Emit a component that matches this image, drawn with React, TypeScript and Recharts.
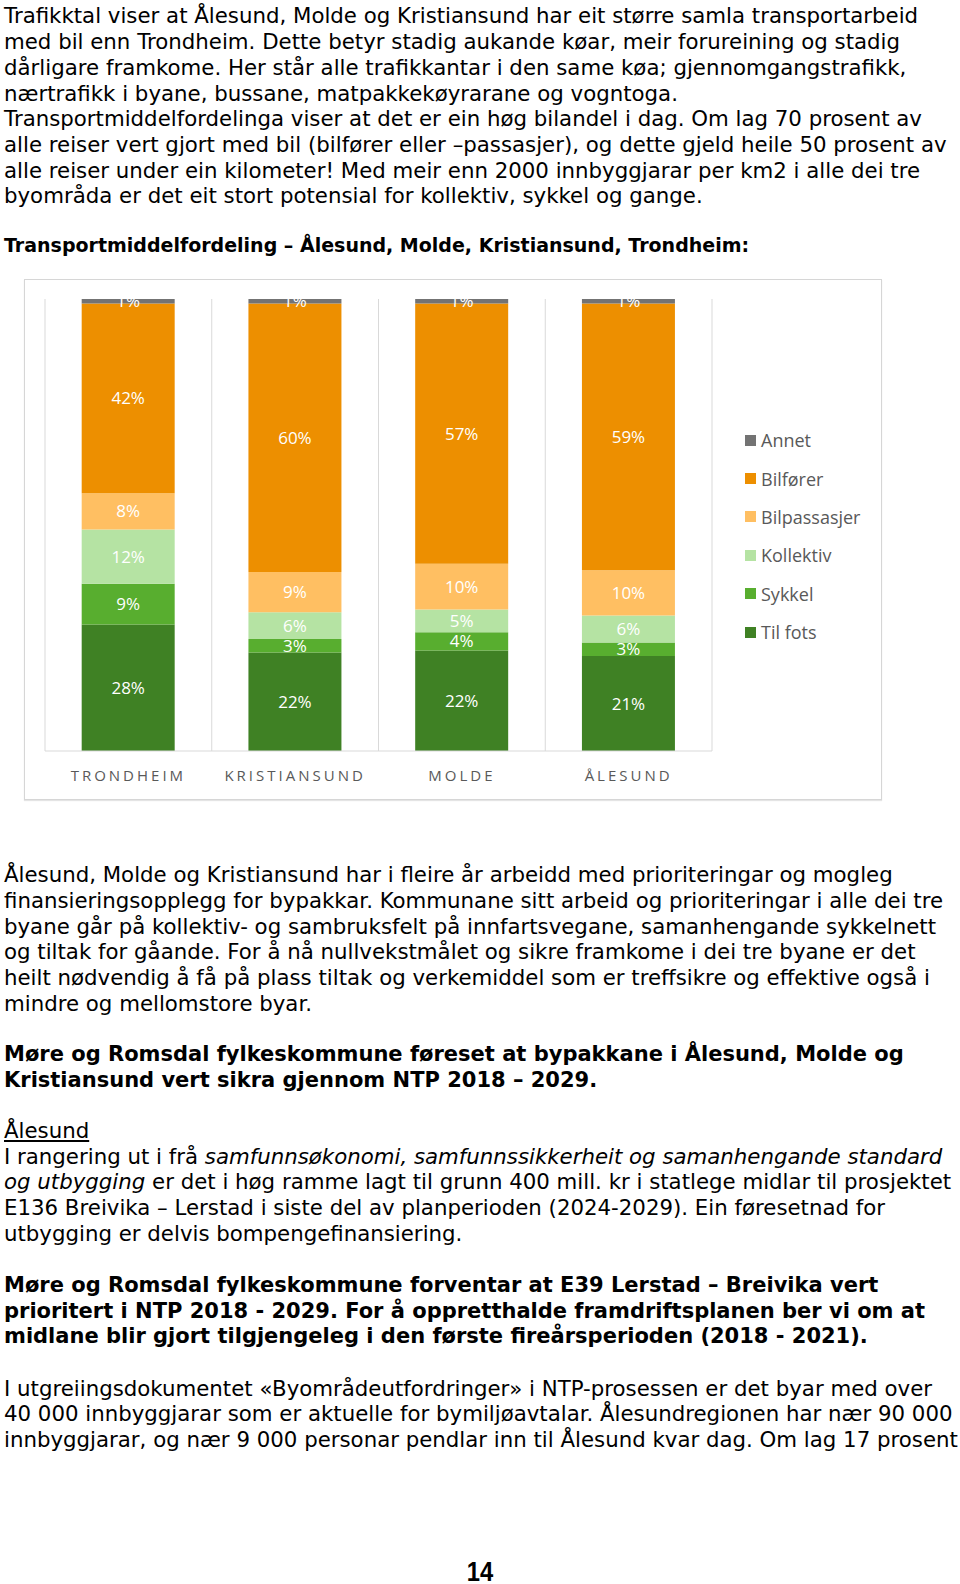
import React from "react";
import { Bar, BarChart, CartesianGrid, LabelList, Legend, XAxis, YAxis } from "recharts";

const cities = ["TRONDHEIM", "KRISTIANSUND", "MOLDE", "ÅLESUND"];
const tilFots = [28, 22, 22, 21];
const sykkel = [9, 3, 4, 3];
const kollektiv = [12, 6, 5, 6];
const bilpassasjer = [8, 9, 10, 10];
const bilforer = [42, 60, 57, 59];
const annet = [1, 1, 1, 1];

const data = cities.map((city, i) => ({
  city,
  tilFots: tilFots[i],
  sykkel: sykkel[i],
  kollektiv: kollektiv[i],
  bilpassasjer: bilpassasjer[i],
  bilforer: bilforer[i],
  annet: annet[i],
}));

// bottom of the stack first
const series = [
  { key: "tilFots", name: "Til fots", color: "#3f8124" },
  { key: "sykkel", name: "Sykkel", color: "#58ae2f" },
  { key: "kollektiv", name: "Kollektiv", color: "#b5e3a3" },
  { key: "bilpassasjer", name: "Bilpassasjer", color: "#ffbf62" },
  { key: "bilforer", name: "Bilfører", color: "#ed8f00" },
  { key: "annet", name: "Annet", color: "#737373" },
];

const LH = 25.7;
const TEXT_FONT = "'DejaVu Sans', Verdana, sans-serif";

function Block({ top, children, bold, size }: { top: number; children: React.ReactNode; bold?: boolean; size?: number }) {
  return (
    <div
      style={{
        position: "absolute",
        left: 4,
        top,
        lineHeight: `${LH}px`,
        fontSize: size ?? (bold ? 21 : 21.3),
        fontFamily: TEXT_FONT,
        fontWeight: bold ? "bold" : "normal",
        whiteSpace: "nowrap",
        color: "#000",
      }}
    >
      {children}
    </div>
  );
}

const gridX = (props: any) => {
  const o = props.offset;
  const step = o.width / cities.length;
  const xs = cities.map((_, i) => o.left + i * step);
  xs.push(o.left + o.width);
  return xs;
};

function LegendBox(props: any) {
  // top to bottom: Annet ... Til fots (reverse of the stack)
  const order = [...series].reverse().map((s) => s.name);
  const items = [...(props.payload || [])].sort(
    (a: any, b: any) => order.indexOf(a.value) - order.indexOf(b.value)
  );
  return (
    <div style={{ fontFamily: "'Open Sans', sans-serif", fontSize: 18, color: "#595959" }}>
      {items.map((it: any) => (
        <div key={it.value} style={{ height: 38.4, display: "flex", alignItems: "center" }}>
          <span style={{ width: 11, height: 11, background: it.color, marginRight: 5, display: "inline-block" }} />
          <span>{it.value}</span>
        </div>
      ))}
    </div>
  );
}

function TransportChart() {
  return (
    <BarChart
      width={856}
      height={519}
      data={data}
      stackOffset="expand"
      barCategoryGap="22%"
      margin={{ top: 19, right: 169, left: 20, bottom: 0 }}
    >
      <CartesianGrid horizontal={false} stroke="#d9d9d9" verticalCoordinatesGenerator={gridX} />
      <XAxis
        dataKey="city"
        height={48}
        tickLine={false}
        tickMargin={13}
        axisLine={{ stroke: "#d9d9d9" }}
        tick={{ fill: "#595959", fontSize: 15, letterSpacing: 3, fontFamily: "'Open Sans', sans-serif" }}
      />
      <YAxis hide domain={[0, 1]} />
      <Legend
        layout="vertical"
        align="center"
        verticalAlign="middle"
        content={<LegendBox />}
        wrapperStyle={{ left: 720, top: 141, width: 130 }}
      />
      {series.map((s) => (
        <Bar key={s.key} dataKey={s.key} name={s.name} stackId="a" fill={s.color} isAnimationActive={false}>
          <LabelList
            dataKey={s.key}
            position="center"
            formatter={(v: any) => `${v}%`}
            fill="#ffffff"
            fontSize={17}
            fontFamily="'Open Sans', sans-serif"
          />
        </Bar>
      ))}
    </BarChart>
  );
}

export default function App() {
  return (
    <div style={{ position: "relative", width: 960, height: 1584, background: "#fff" }}>
      <style>{"body{margin:0}"}</style>
      <Block top={3.4}>
        Trafikktal viser at Ålesund, Molde og Kristiansund har eit større samla transportarbeid<br />
        med bil enn Trondheim. Dette betyr stadig aukande køar, meir forureining og stadig<br />
        dårligare framkome. Her står alle trafikkantar i den same køa; gjennomgangstrafikk,<br />
        nærtrafikk i byane, bussane, matpakkekøyrarane og vogntoga.<br />
        Transportmiddelfordelinga viser at det er ein høg bilandel i dag. Om lag 70 prosent av<br />
        alle reiser vert gjort med bil (bilfører eller –passasjer), og dette gjeld heile 50 prosent av<br />
        alle reiser under ein kilometer! Med meir enn 2000 innbyggjarar per km2 i alle dei tre<br />
        byområda er det eit stort potensial for kollektiv, sykkel og gange.
      </Block>
      <Block top={232.8} bold size={19}>
        Transportmiddelfordeling – Ålesund, Molde, Kristiansund, Trondheim:
      </Block>

      <div
        style={{
          position: "absolute",
          left: 24,
          top: 279,
          width: 856,
          height: 519,
          border: "1px solid #d6d6d6",
          boxShadow: "0 1px 1px #e4e4e4",
          background: "#fff",
        }}
      >
        <TransportChart />
      </div>

      <Block top={862.1}>
        Ålesund, Molde og Kristiansund har i fleire år arbeidd med prioriteringar og mogleg<br />
        finansieringsopplegg for bypakkar. Kommunane sitt arbeid og prioriteringar i alle dei tre<br />
        byane går på kollektiv- og sambruksfelt på innfartsvegane, samanhengande sykkelnett<br />
        og tiltak for gåande. For å nå nullvekstmålet og sikre framkome i dei tre byane er det<br />
        heilt nødvendig å få på plass tiltak og verkemiddel som er treffsikre og effektive også i<br />
        mindre og mellomstore byar.
      </Block>
      <Block top={1042} bold>
        Møre og Romsdal fylkeskommune føreset at bypakkane i Ålesund, Molde og<br />
        Kristiansund vert sikra gjennom NTP 2018 – 2029.
      </Block>
      <Block top={1118}>
        <span style={{ textDecoration: "underline" }}>Ålesund</span><br />
        I rangering ut i frå <i>samfunnsøkonomi, samfunnssikkerheit og samanhengande standard</i><br />
        <i>og utbygging</i> er det i høg ramme lagt til grunn 400 mill. kr i statlege midlar til prosjektet<br />
        E136 Breivika – Lerstad i siste del av planperioden (2024-2029). Ein føresetnad for<br />
        utbygging er delvis bompengefinansiering.
      </Block>
      <Block top={1273} bold>
        Møre og Romsdal fylkeskommune forventar at E39 Lerstad – Breivika vert<br />
        prioritert i NTP 2018 - 2029. For å oppretthalde framdriftsplanen ber vi om at<br />
        midlane blir gjort tilgjengeleg i den første fireårsperioden (2018 - 2021).
      </Block>
      <Block top={1375.6}>
        I utgreiingsdokumentet «Byområdeutfordringer» i NTP-prosessen er det byar med over<br />
        40 000 innbyggjarar som er aktuelle for bymiljøavtalar. Ålesundregionen har nær 90 000<br />
        innbyggjarar, og nær 9 000 personar pendlar inn til Ålesund kvar dag. Om lag 17 prosent
      </Block>
      <div
        style={{
          position: "absolute",
          left: 0,
          width: 960,
          top: 1556,
          textAlign: "center",
          fontFamily: "'Liberation Sans', Arial, sans-serif",
          fontWeight: "bold",
          fontSize: 28,
          lineHeight: "32px",
          transform: "scaleX(0.85)",
        }}
      >
        14
      </div>
    </div>
  );
}
